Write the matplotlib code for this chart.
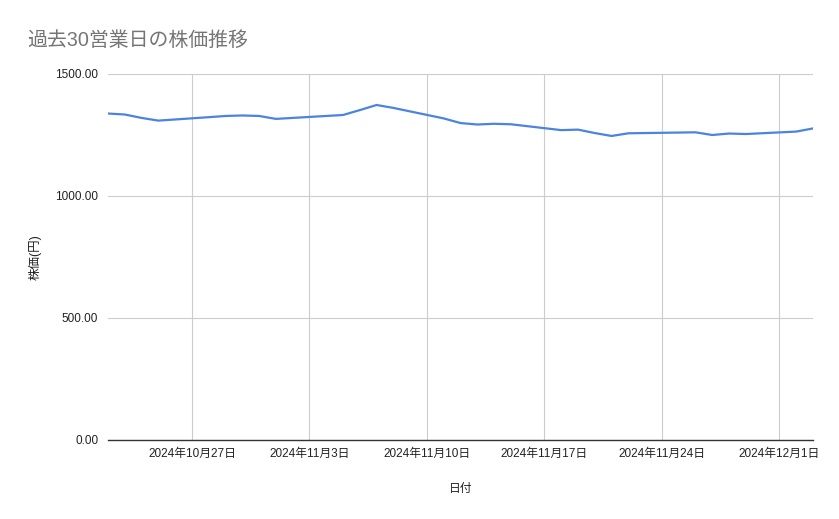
import numpy as np
import pandas as pd
import matplotlib
matplotlib.use("Agg")
import matplotlib.pyplot as plt
import matplotlib.dates as mdates

plt.rcParams['font.family'] = ['Liberation Sans', 'Noto Sans CJK JP', 'DejaVu Sans']

# 30 business days (Tokyo market, Nov 4 holiday)
dates = ["2024-10-22", "2024-10-23", "2024-10-24", "2024-10-25",
         "2024-10-28", "2024-10-29", "2024-10-30", "2024-10-31", "2024-11-01",
         "2024-11-05", "2024-11-06", "2024-11-07", "2024-11-08",
         "2024-11-11", "2024-11-12", "2024-11-13", "2024-11-14", "2024-11-15",
         "2024-11-18", "2024-11-19", "2024-11-20", "2024-11-21", "2024-11-22",
         "2024-11-25", "2024-11-26", "2024-11-27", "2024-11-28", "2024-11-29",
         "2024-12-02", "2024-12-03"]
prices = [1338, 1334, 1320, 1309,
          1323, 1328, 1330, 1328, 1316,
          1332, 1352, 1373, 1361,
          1318, 1299, 1293, 1296, 1294,
          1270, 1272, 1258, 1246, 1257,
          1260, 1261, 1250, 1256, 1254,
          1264, 1277]
yticks = [0, 500, 1000, 1500]

title = "過去30営業日の株価推移"
xlabel = "日付"
ylabel = "株価(円)"

df = pd.DataFrame({"date": pd.to_datetime(dates), "price": prices})

fig = plt.figure(figsize=(8.39, 5.19), dpi=100)
ax = fig.add_axes([108/839, 1-440/519, (813-108)/839, (440-74)/519])

ax.plot(df["date"], df["price"], color="#4a84e0", lw=1.6, solid_joinstyle="round")

ax.set_xlim(df["date"].iloc[0], df["date"].iloc[-1])
ax.set_ylim(0, 1500)
ax.set_yticks(yticks)
ax.yaxis.set_major_formatter(plt.FuncFormatter(lambda v, p: f"{v:.2f}"))

ax.xaxis.set_major_locator(mdates.WeekdayLocator(byweekday=mdates.SU))
ax.xaxis.set_major_formatter(plt.FuncFormatter(
    lambda v, p: (lambda d: f"{d.year}年{d.month}月{d.day}日")(mdates.num2date(v))))

ax.grid(True, color="#cccccc", lw=0.8)
ax.set_axisbelow(True)
for s in ["top", "right", "left"]:
    ax.spines[s].set_visible(False)
ax.spines["bottom"].set_color("#333333")
ax.spines["bottom"].set_linewidth(1.0)
ax.spines["bottom"].set_zorder(3)
ax.tick_params(axis="both", length=0, labelsize=8.5, colors="#222222")
ax.tick_params(axis="x", pad=6)
ax.tick_params(axis="y", pad=7)

ax.set_xlabel(xlabel, fontsize=8.5, color="#222222", labelpad=16)
ax.set_ylabel(ylabel, fontsize=9, color="#222222", labelpad=10)

fig.text(27/839, 1-40/519, title, fontsize=14.3, color="#757575", va="center", ha="left")

fig.savefig("out.png", dpi=100)
